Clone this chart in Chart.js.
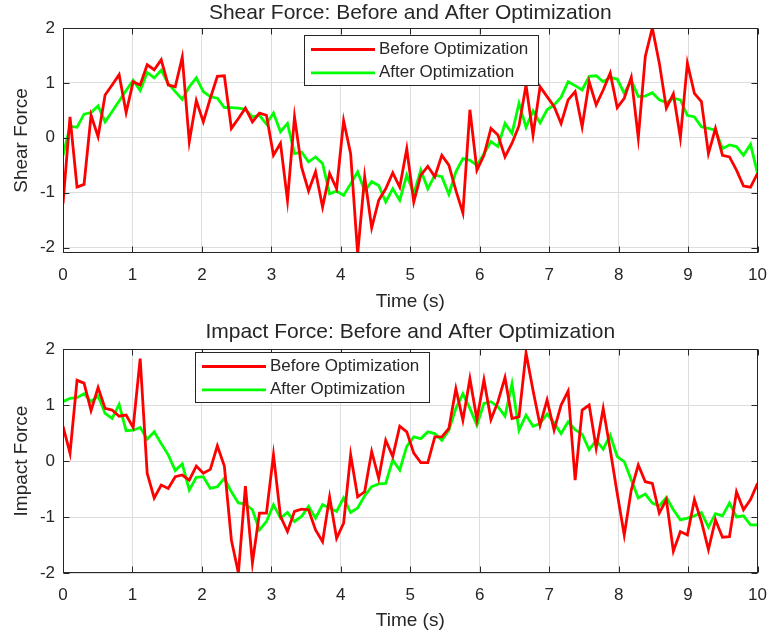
<!DOCTYPE html>
<html>
<head>
<meta charset="utf-8">
<script src="https://cdn.jsdelivr.net/npm/chart.js@4.4.0/dist/chart.umd.min.js"></script>
<style>
  body { margin: 0; background: #fff; }
  .panel { position: absolute; left: 0; width: 779px; height: 319px; }
</style>
</head>
<body>
<div class="panel" style="top:0"><canvas id="shearChart"></canvas></div>
<div class="panel" style="top:319px"><canvas id="impactChart"></canvas></div>
<script>
// sample times: 100 samples from 0 to 10 s
var time = Array.from({length: 100}, function (_, i) { return i * 10 / 99; });
var xTicks = [0, 1, 2, 3, 4, 5, 6, 7, 8, 9, 10];
var yTicks = [-2, -1, 0, 1, 2];

var shearBefore = [
  -1.2, 0.38, -0.9, -0.85, 0.41, 0.02, 0.78, 0.96, 1.15, 0.46,
  1.02, 0.96, 1.33, 1.24, 1.42, 0.96, 0.93, 1.47, -0.07, 0.68,
  0.29, 0.72, 1.12, 1.13, 0.17, 0.35, 0.54, 0.29, 0.45, 0.41,
  -0.32, -0.1, -1.14, 0.38, -0.53, -0.97, -0.62, -1.26, -0.65, -0.93,
  0.31, -0.29, -2.12, -0.71, -1.64, -1.14, -0.93, -0.64, -0.9, -0.2,
  -1.17, -0.68, -0.52, -0.71, -0.32, -0.5, -0.96, -1.37, 0.51, -0.59,
  -0.32, 0.17, 0.05, -0.35, -0.1, 0.22, 0.96, 0.05, 0.93, 0.75,
  0.57, 0.26, 0.69, 0.84, 0.2, 1.02, 0.6, 0.87, 1.18, 0.55,
  0.72, 1.1, 0.0, 1.48, 2.0, 1.36, 0.54, 0.8, 0.0, 1.36,
  0.81, 0.66, -0.29, 0.17, -0.32, -0.35, -0.59, -0.88, -0.9, -0.65
];
var shearAfter = [
  -0.32, 0.21, 0.19, 0.43, 0.46, 0.58, 0.29, 0.48, 0.67, 0.86,
  1.05, 0.86, 1.19, 1.09, 1.23, 0.99, 0.84, 0.7, 0.93, 1.09,
  0.84, 0.75, 0.72, 0.55, 0.55, 0.54, 0.52, 0.38, 0.41, 0.25,
  0.45, 0.11, 0.26, -0.29, -0.26, -0.44, -0.35, -0.47, -1.02, -0.97,
  -1.05, -0.84, -0.62, -0.97, -0.8, -0.87, -1.17, -0.93, -1.14, -0.68,
  -1.02, -0.59, -0.93, -0.68, -0.71, -1.03, -0.62, -0.38, -0.41, -0.5,
  -0.29, -0.07, -0.16, 0.26, 0.08, 0.63, 0.19, 0.49, 0.27, 0.51,
  0.6, 0.74, 1.02, 0.95, 0.87, 1.12, 1.13, 1.02, 1.1, 1.07,
  0.81, 1.05, 0.75, 0.76, 0.82, 0.69, 0.64, 0.72, 0.69, 0.41,
  0.38, 0.2, 0.17, 0.14, -0.2, -0.13, -0.16, -0.32, -0.12, -0.65
];
var impactBefore = [
  0.62, 0.14, 1.44, 1.39, 0.9, 1.31, 0.94, 0.91, 0.8, 0.82,
  0.6, 1.83, -0.22, -0.66, -0.43, -0.49, -0.28, -0.25, -0.34, -0.09,
  -0.22, -0.15, 0.27, -0.09, -1.41, -2.0, -0.45, -1.82, -0.93, -0.93,
  0.11, -0.99, -1.26, -0.9, -0.86, -0.87, -1.23, -1.44, -0.64, -1.38,
  -1.11, 0.11, -0.64, -0.55, 0.17, -0.31, 0.37, 0.08, 0.62, 0.52,
  0.14, -0.03, -0.03, 0.43, 0.43, 0.58, 1.29, 0.73, 1.47, 0.74,
  1.45, 0.74, 1.06, 1.49, 0.76, 0.79, 1.93, 1.26, 0.64, 1.09,
  0.55, 1.0, 1.25, -0.34, 0.91, 1.0, 0.23, 0.94, 0.2, -0.58,
  -1.32, -0.52, -0.07, -0.37, -0.4, -0.93, -0.69, -1.61, -1.26, -1.32,
  -0.69, -1.08, -1.58, -1.05, -1.36, -1.35, -0.55, -0.87, -0.69, -0.4
];
var impactAfter = [
  1.06, 1.12, 1.13, 1.2, 1.06, 1.16, 0.85, 0.76, 1.01, 0.54,
  0.55, 0.6, 0.39, 0.52, 0.31, 0.11, -0.17, -0.05, -0.52, -0.29,
  -0.28, -0.49, -0.46, -0.31, -0.55, -0.75, -0.77, -0.87, -1.23, -1.08,
  -0.78, -1.02, -0.92, -1.08, -0.99, -0.81, -1.02, -0.78, -0.84, -0.9,
  -0.66, -0.92, -0.84, -0.62, -0.46, -0.41, -0.4, 0.02, -0.16, 0.26,
  0.43, 0.4, 0.52, 0.49, 0.37, 0.55, 0.94, 1.2, 0.94, 0.64,
  1.03, 1.06, 0.97, 0.8, 1.38, 0.55, 0.82, 0.62, 0.67, 0.84,
  0.68, 0.49, 0.7, 0.56, 0.48, 0.2, 0.37, 0.21, 0.46, 0.08,
  -0.01, -0.34, -0.66, -0.59, -0.75, -0.8, -0.65, -0.87, -1.05, -1.02,
  -0.98, -0.92, -1.18, -0.94, -0.98, -0.75, -1.0, -0.98, -1.14, -1.14
];

var FONT = '"Liberation Sans", Arial, sans-serif';
var TEXT = '#262626';

function points(values) {
  return values.map(function (v, i) { return {x: time[i], y: v}; });
}

// MATLAB style box with inward ticks on all four sides
var axesFrame = {
  id: 'axesFrame',
  afterDatasetsDraw: function (chart) {
    var ctx = chart.ctx, a = chart.chartArea, sx = chart.scales.x, sy = chart.scales.y;
    var L = Math.round(a.left) + 0.5, R = Math.round(a.right) - 0.5;
    var T = Math.round(a.top) + 0.5, B = Math.round(a.bottom) - 0.5;
    ctx.save();
    ctx.strokeStyle = TEXT;
    ctx.lineWidth = 1;
    ctx.strokeRect(L, T, R - L, B - T);
    ctx.beginPath();
    sx.ticks.forEach(function (t) {
      var px = Math.round(sx.getPixelForValue(t.value)) + 0.5;
      ctx.moveTo(px, B); ctx.lineTo(px, B - 6);
      ctx.moveTo(px, T); ctx.lineTo(px, T + 6);
    });
    sy.ticks.forEach(function (t) {
      var py = Math.round(sy.getPixelForValue(t.value)) + 0.5;
      ctx.moveTo(L, py); ctx.lineTo(L + 6, py);
      ctx.moveTo(R, py); ctx.lineTo(R - 6, py);
    });
    ctx.stroke();
    ctx.restore();
  }
};

// legend box drawn inside the plot area
var insideLegend = {
  id: 'insideLegend',
  afterDraw: function (chart, args, opts) {
    var ctx = chart.ctx, b = opts.box;
    ctx.save();
    ctx.fillStyle = '#fff';
    ctx.fillRect(b.x, b.y, b.w, b.h);
    ctx.strokeStyle = TEXT;
    ctx.lineWidth = 1;
    ctx.strokeRect(b.x + 0.5, b.y + 0.5, b.w, b.h);
    ctx.font = '17px ' + FONT;
    ctx.textBaseline = 'middle';
    chart.data.datasets.forEach(function (ds, i) {
      var cy = b.y + 14.5 + i * 23.3;
      ctx.strokeStyle = ds.borderColor;
      ctx.lineWidth = ds.borderWidth;
      ctx.beginPath();
      ctx.moveTo(b.x + 7, cy);
      ctx.lineTo(b.x + 71, cy);
      ctx.stroke();
      ctx.fillStyle = TEXT;
      ctx.fillText(ds.label, b.x + 75, cy);
    });
    ctx.restore();
  }
};

function makeChart(id, title, yLabel, before, after, yMin, areaTop, areaBottom, box) {
  var ctx = document.getElementById(id).getContext('2d');
  return new Chart(ctx, {
    type: 'line',
    data: {
      datasets: [
        {
          label: 'Before Optimization',
          data: points(before),
          borderColor: '#ff0000',
          borderWidth: 2.8,
          pointRadius: 0,
          tension: 0,
        },
        {
          label: 'After Optimization',
          data: points(after),
          borderColor: '#00ff00',
          borderWidth: 2.8,
          pointRadius: 0,
          tension: 0,
        },
      ],
    },
    options: {
      responsive: true,
      maintainAspectRatio: false,
      animation: false,
      devicePixelRatio: 1,
      layout: {
        padding: { left: 0, right: 19, top: 0, bottom: 0 }
      },
      scales: {
        x: {
          type: 'linear',
          min: 0,
          max: 10,
          afterBuildTicks: function (scale) {
            scale.ticks = xTicks.map(function (v) { return {value: v}; });
          },
          afterFit: function (scale) { scale.height = 319 - areaBottom; },
          grid: { color: '#dedede', lineWidth: 1, drawTicks: false },
          border: { display: false },
          ticks: {
            color: TEXT,
            padding: 12,
            maxRotation: 0,
            font: { family: FONT, size: 17 },
          },
          title: {
            display: true,
            text: 'Time (s)',
            color: TEXT,
            font: { family: FONT, size: 19 },
            padding: { top: 0, bottom: 6 },
          },
        },
        y: {
          min: yMin,
          max: 2,
          afterBuildTicks: function (scale) {
            scale.ticks = yTicks.map(function (v) { return {value: v}; });
          },
          afterFit: function (scale) { scale.width = 63; },
          grid: { color: '#dedede', lineWidth: 1, drawTicks: false },
          border: { display: false },
          ticks: {
            color: TEXT,
            padding: 8,
            font: { family: FONT, size: 17 },
          },
          title: {
            display: true,
            text: yLabel,
            color: TEXT,
            font: { family: FONT, size: 19 },
            padding: { top: 10, bottom: 0 },
          },
        },
      },
      plugins: {
        legend: { display: false },
        tooltip: { enabled: false },
        title: {
          display: true,
          text: title,
          fullSize: false,
          color: TEXT,
          font: { family: FONT, size: 21, weight: 'normal' },
          padding: { top: 0.4, bottom: areaTop - 25.2 - 0.4 },
        },
        insideLegend: { box: box },
      },
    },
    plugins: [axesFrame, insideLegend],
  });
}

makeChart('shearChart', 'Shear Force: Before and After Optimization', 'Shear Force',
  shearBefore, shearAfter, -2.1, 28, 253, {x: 304, y: 35, w: 234, h: 50});
makeChart('impactChart', 'Impact Force: Before and After Optimization', 'Impact Force',
  impactBefore, impactAfter, -2, 30, 254, {x: 195, y: 33, w: 234, h: 50});
</script>
</body>
</html>
